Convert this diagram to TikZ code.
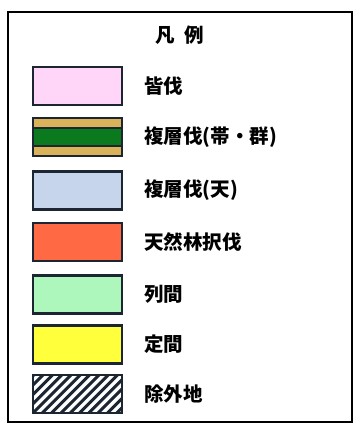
\documentclass[tikz,border=0pt]{standalone}
\usepackage{fontspec}
\newfontfamily\jpfont{Noto Sans CJK JP}
\usetikzlibrary{positioning}
\definecolor{framecol}{HTML}{1C2633}
\definecolor{pinkcut}{HTML}{FFD6F8}
\definecolor{goldband}{HTML}{D9B25A}
\definecolor{greenband}{HTML}{0B7A1F}
\definecolor{bluecut}{HTML}{C6D5EC}
\definecolor{redcut}{HTML}{FF6A45}
\definecolor{rowgreen}{HTML}{ADF7BC}
\definecolor{yellowcut}{HTML}{FFFF3C}

\begin{document}
\begin{tikzpicture}[x=1pt, y=-1pt,
        swatch/.style={draw=framecol, line width=2.4pt, minimum width=89pt,
            minimum height=38pt, inner sep=0pt},
        legtext/.style={anchor=west, inner sep=0pt,
            font=\jpfont\bfseries\fontsize{19.5}{19.5}\selectfont},
        hatched/.style={swatch, fill=white, path picture={
                \foreach \k in {-6,...,12}
                    \draw[framecol, line width=3pt]
                        ([xshift=\k*9.3pt]path picture bounding box.south west)
                        -- ++(45pt,45pt);
            }},
        banded/.style={swatch, fill=goldband, path picture={
                \draw[fill=greenband, draw=framecol, line width=1.2pt]
                    ([shift={(-2pt,9pt)}]path picture bounding box.west)
                    rectangle ([shift={(2pt,-9pt)}]path picture bounding box.east);
            }}]

    \useasboundingbox (0,0) rectangle (358,427);

    % outer frame
    \draw[line width=2.8pt, black] (8,12) rectangle (352,422);
    \node[font=\jpfont\bfseries\fontsize{19.5}{19.5}\selectfont] (title) at (180,35) {凡\hspace{0.5em}例};

    % swatches
    \node[swatch, fill=pinkcut]   (sw1) at (77.5,86)    {};
    \node[banded]                 (sw2) at (77.5,137)   {};
    \node[swatch, fill=bluecut]   (sw3) at (77.5,190.5) {};
    \node[swatch, fill=redcut]    (sw4) at (77.5,242)   {};
    \node[swatch, fill=rowgreen]  (sw5) at (77.5,294.5) {};
    \node[swatch, fill=yellowcut] (sw6) at (77.5,344.5) {};
    \node[hatched]                (sw7) at (77.5,394)   {};

    % labels
    \node[legtext, right=21pt of sw1] (lb1) {皆伐};
    \node[legtext, right=21pt of sw2] (lb2) {複層伐(帯・群)};
    \node[legtext, right=21pt of sw3] (lb3) {複層伐(天)};
    \node[legtext, right=21pt of sw4] (lb4) {天然林択伐};
    \node[legtext, right=21pt of sw5] (lb5) {列間};
    \node[legtext, right=21pt of sw6] (lb6) {定間};
    \node[legtext, right=21pt of sw7] (lb7) {除外地};
\end{tikzpicture}
\end{document}
